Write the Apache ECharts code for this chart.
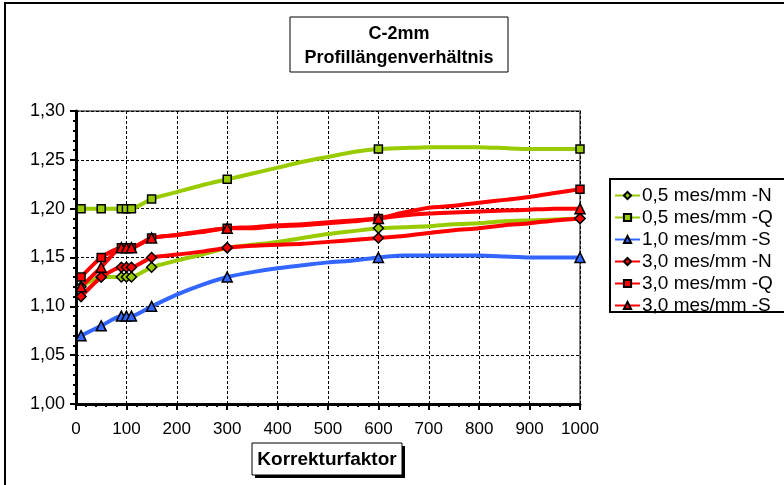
<!DOCTYPE html>
<html>
<head>
<meta charset="utf-8">
<script src="https://cdn.jsdelivr.net/npm/echarts@6/dist/echarts.min.js"></script>
<style>html,body{margin:0;padding:0;background:#fff}#c{width:784px;height:485px}</style>
</head>
<body>
<div id="c"></div>
<script>
// ---- data ----
const lineX   = [10, 50, 90, 100, 110, 150, 200, 250, 300, 350, 400, 450, 500, 550, 600, 650, 700, 750, 800, 850, 900, 950, 1000];
const markerX = [10, 50, 90, 100, 110, 150, 300, 600, 1000];
const seriesNames = ['0,5 mes/mm -N', '0,5 mes/mm -Q', '1,0 mes/mm -S', '3,0 mes/mm -N', '3,0 mes/mm -Q', '3,0 mes/mm -S'];
const y05N = [1.12, 1.13, 1.13, 1.13, 1.13, 1.14, 1.147, 1.153, 1.16, 1.163, 1.166, 1.170, 1.174, 1.177, 1.18, 1.181, 1.182, 1.184, 1.185, 1.187, 1.188, 1.189, 1.19];
const y05Q = [1.20, 1.20, 1.20, 1.20, 1.20, 1.21, 1.217, 1.224, 1.23, 1.236, 1.242, 1.248, 1.253, 1.258, 1.261, 1.262, 1.263, 1.263, 1.263, 1.262, 1.261, 1.261, 1.261];
const y10S = [1.07, 1.08, 1.09, 1.09, 1.09, 1.10, 1.112, 1.122, 1.13, 1.135, 1.139, 1.142, 1.145, 1.147, 1.15, 1.152, 1.152, 1.152, 1.152, 1.151, 1.15, 1.15, 1.15];
const y30N = [1.11, 1.13, 1.14, 1.14, 1.14, 1.15, 1.153, 1.156, 1.16, 1.162, 1.163, 1.164, 1.166, 1.168, 1.17, 1.172, 1.175, 1.178, 1.18, 1.183, 1.185, 1.188, 1.19];
const y30Q = [1.13, 1.15, 1.16, 1.16, 1.16, 1.17, 1.173, 1.177, 1.18, 1.181, 1.183, 1.184, 1.186, 1.188, 1.19, 1.196, 1.201, 1.203, 1.206, 1.209, 1.212, 1.216, 1.22];
const y30S = [1.12, 1.14, 1.16, 1.16, 1.16, 1.17, 1.173, 1.176, 1.18, 1.18, 1.182, 1.183, 1.185, 1.187, 1.19, 1.193, 1.195, 1.196, 1.197, 1.198, 1.199, 1.20, 1.20];
const xTicks = [0, 100, 200, 300, 400, 500, 600, 700, 800, 900, 1000];
const yTicks = [1.00, 1.05, 1.10, 1.15, 1.20, 1.25, 1.30];
const titleLines = ['C-2mm', 'Profillängenverhältnis'];
const xAxisTitle = 'Korrekturfaktor';

const ys = [y05N, y05Q, y10S, y30N, y30Q, y30S];
const colors = ['#99cc00', '#99cc00', '#3366ff', '#ff0000', '#ff0000', '#ff0000'];
const symbols = ['diamond', 'rect', 'triangle', 'diamond', 'rect', 'triangle'];
const symSizes = [10, 8, 10, 10, 8, 10];
const FONT = "'Liberation Sans', Arial, sans-serif";

function buildData(yArr) {
  return lineX.map((x, i) => {
    const item = { value: [x, yArr[i]] };
    if (markerX.indexOf(x) < 0) item.symbol = 'none';
    return item;
  });
}

const series = seriesNames.map((name, k) => ({
  name: name,
  type: 'line',
  data: buildData(ys[k]),
  symbol: symbols[k],
  symbolSize: symSizes[k],
  showAllSymbol: true,
  smooth: 0.2,
  lineStyle: { color: colors[k], width: 4 },
  itemStyle: { color: colors[k], borderColor: '#000', borderWidth: 1.5 },
  emphasis: { disabled: true },
  animation: false
}));

const chart = echarts.init(document.getElementById('c'), null, { renderer: 'canvas' });
chart.setOption({
  animation: false,
  backgroundColor: '#fff',
  textStyle: { fontFamily: FONT },
  graphic: [
    { type: 'rect', shape: { x: 5, y: 3, width: 820, height: 520 }, style: { fill: 'none', stroke: '#000', lineWidth: 2 }, silent: true, z: 0 },
    { type: 'rect', shape: { x: 290, y: 17, width: 218, height: 55 }, style: { fill: 'none', stroke: '#000', lineWidth: 1 }, silent: true },
    { type: 'text', x: 399, y: 34, style: { text: titleLines[0], font: "bold 18px 'Liberation Sans', Arial", fill: '#000', textAlign: 'center', textVerticalAlign: 'middle' }, silent: true },
    { type: 'text', x: 399, y: 58, style: { text: titleLines[1], font: "bold 18px 'Liberation Sans', Arial", fill: '#000', textAlign: 'center', textVerticalAlign: 'middle' }, silent: true },
    { type: 'rect', shape: { x: 610, y: 179, width: 200, height: 133 }, style: { fill: 'none', stroke: '#000', lineWidth: 2 }, silent: true },
    { type: 'rect', shape: { x: 255, y: 446, width: 150, height: 32 }, style: { fill: '#000' }, silent: true },
    { type: 'rect', shape: { x: 252, y: 443, width: 150, height: 32 }, style: { fill: '#fff', stroke: '#000', lineWidth: 1 }, silent: true },
    { type: 'text', x: 327, y: 460, style: { text: xAxisTitle, font: "bold 19px 'Liberation Sans', Arial", fill: '#000', textAlign: 'center', textVerticalAlign: 'middle' }, silent: true }
  ],
  legend: {
    orient: 'vertical',
    left: 609, top: 181,
    itemWidth: 25, itemHeight: 9,
    itemGap: 3,
    data: seriesNames,
    textStyle: { fontFamily: FONT, fontSize: 19, color: '#000', padding: [0, 0, 0, -3] },
    selectedMode: false
  },
  grid: {
    left: 76, right: 204, top: 111, bottom: 81,
    show: true, borderColor: '#808080', borderWidth: 2, backgroundColor: '#fff'
  },
  xAxis: {
    type: 'value',
    min: xTicks[0], max: xTicks[xTicks.length - 1], interval: 100,
    axisLine: { show: true, onZero: false, lineStyle: { color: '#000', width: 3 } },
    axisTick: { show: true, length: 6, lineStyle: { color: '#000', width: 2 } },
    minorTick: { show: true, splitNumber: 5, length: 3, lineStyle: { color: '#000', width: 2 } },
    axisLabel: { fontFamily: FONT, fontSize: 17, color: '#000', margin: 17, formatter: v => String(v) },
    splitLine: { show: true, lineStyle: { color: '#000', type: [3, 2], width: 1 } }
  },
  yAxis: {
    type: 'value',
    min: yTicks[0], max: yTicks[yTicks.length - 1], interval: 0.05,
    axisLine: { show: true, lineStyle: { color: '#000', width: 3 } },
    axisTick: { show: true, length: 6, lineStyle: { color: '#000', width: 2 } },
    minorTick: { show: true, splitNumber: 5, length: 3, lineStyle: { color: '#000', width: 2 } },
    axisLabel: { fontFamily: FONT, fontSize: 18, color: '#000', margin: 11,
      formatter: v => v.toFixed(2).replace('.', ',') },
    splitLine: { show: true, lineStyle: { color: '#000', type: [3, 2], width: 1 } }
  },
  series: series
});
</script>
</body>
</html>
